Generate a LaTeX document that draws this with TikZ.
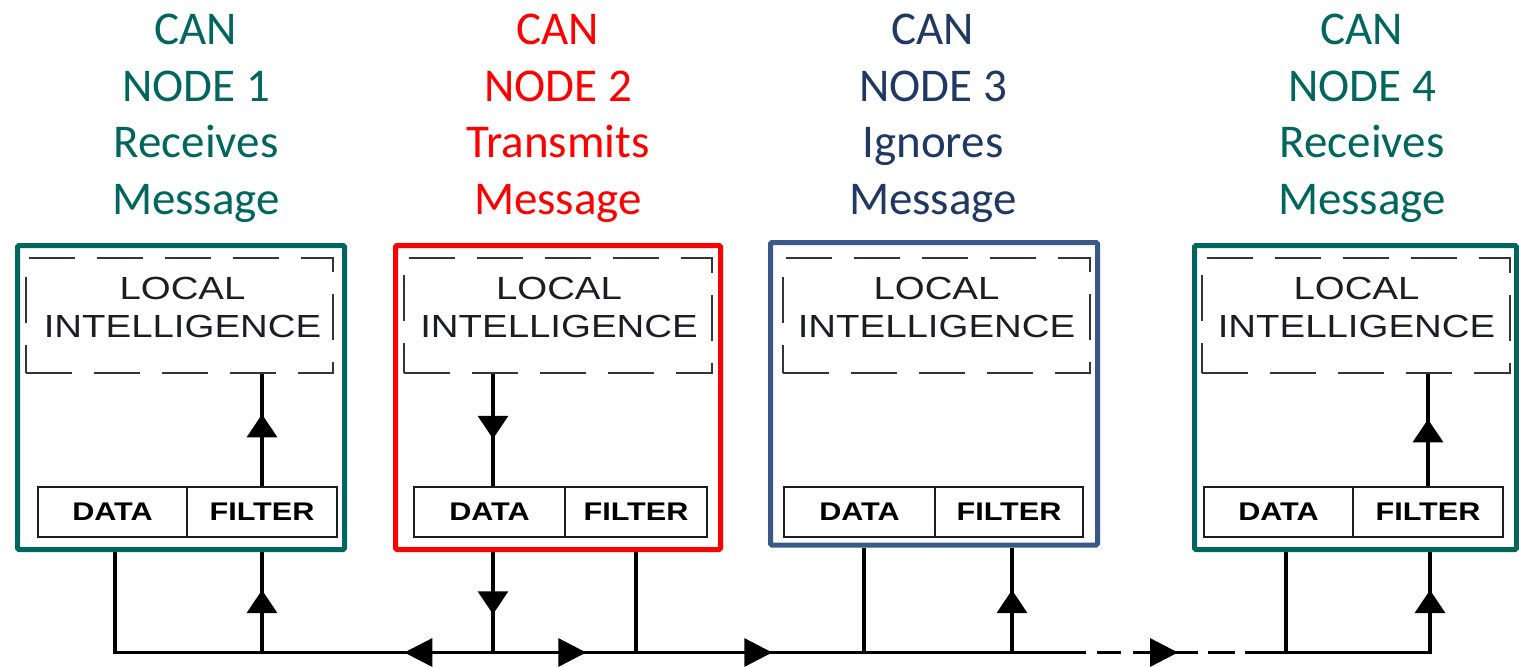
\documentclass[tikz,border=0pt]{standalone}
\usepackage{fontspec}
\usepackage{graphicx}
\setmainfont{Carlito}
\newfontfamily\arialf{Liberation Sans}
\usetikzlibrary{arrows.meta,decorations.markings}
\definecolor{cteal}{RGB}{0,102,94}
\definecolor{cred}{RGB}{255,0,0}
\definecolor{cnavy}{RGB}{31,56,100}
\definecolor{cslate}{RGB}{59,89,136}
\definecolor{ink}{RGB}{28,28,36}
\tikzset{
  ttl/.style={align=center, anchor=north, inner sep=0pt, font=\fontsize{47}{56.5}\selectfont},
  outerbox/.style={draw, line width=5pt, inner sep=0pt, rounded corners=1.5pt},
  libox/.style={draw=ink!90, line width=1.6pt, dash pattern=on 46pt off 22pt, inner sep=0pt, minimum height=115pt},
  litext/.style={align=center, anchor=north, inner sep=0pt, xscale=1.2, text=ink, font=\arialf\fontsize{32}{38}\selectfont},
  cellbox/.style={draw=ink, line width=1.4pt, minimum height=50pt, inner sep=0pt, text=black, font=\arialf\bfseries\fontsize{25.5}{25.5}\selectfont},
  wire/.style={line width=3.3pt},
  vtri/.tip={Triangle[width=30pt,length=23pt]},
  btri/.tip={Triangle[width=28pt,length=28pt]},
  upat/.style={decoration={markings, mark=at position #1 with {\arrow{vtri}}}, postaction={decorate}},
}
\begin{document}
\begin{tikzpicture}[x=1pt,y=-1pt]
\useasboundingbox (0,0) rectangle (1519,667);
% titles
\node[ttl,text=cteal] (t1) at (196,14) {CAN\\NODE 1\\Receives\\Message};
\node[ttl,text=cred] (t2) at (558,14) {CAN\\NODE 2\\Transmits\\Message};
\node[ttl,text=cnavy] (t3) at (933,14) {CAN\\NODE 3\\Ignores\\Message};
\node[ttl,text=cteal] (t4) at (1362,14) {CAN\\NODE 4\\Receives\\Message};
% outer boxes
\node[outerbox,draw=cteal,minimum width=327pt,minimum height=304pt] (box1) at (181,397.5) {};
\node[outerbox,draw=cred,minimum width=325pt,minimum height=304pt] (box2) at (558,397.5) {};
\node[outerbox,draw=cslate,minimum width=327pt,minimum height=302.5pt] (box3) at (934,393.75) {};
\node[outerbox,draw=cteal,minimum width=322pt,minimum height=304pt] (box4) at (1355.5,397.5) {};
% local intelligence
\node[libox,minimum width=307pt] (li1) at (179.5,315.5) {};
\node[libox,minimum width=308pt] (li2) at (558,315.5) {};
\node[libox,minimum width=307pt] (li3) at (936.5,315.5) {};
\node[libox,minimum width=308pt] (li4) at (1356,315.5) {};
\node[litext] (lt1) at (182.5,277) {LOCAL\\INTELLIGENCE};
\node[litext] (lt2) at (559,277) {LOCAL\\INTELLIGENCE};
\node[litext] (lt3) at (936.5,277) {LOCAL\\INTELLIGENCE};
\node[litext] (lt4) at (1356.5,277) {LOCAL\\INTELLIGENCE};
% data / filter cells
\node[cellbox,minimum width=149pt] (d1) at (112.5,512) {\scalebox{1.2}[1]{DATA}};
\node[cellbox,minimum width=150pt] (f1) at (262,512) {\scalebox{1.2}[1]{FILTER}};
\node[cellbox,minimum width=151pt] (d2) at (489.5,512) {\scalebox{1.2}[1]{DATA}};
\node[cellbox,minimum width=142pt] (f2) at (636,512) {\scalebox{1.2}[1]{FILTER}};
\node[cellbox,minimum width=151pt] (d3) at (859.5,512) {\scalebox{1.2}[1]{DATA}};
\node[cellbox,minimum width=148pt] (f3) at (1009,512) {\scalebox{1.2}[1]{FILTER}};
\node[cellbox,minimum width=149pt] (d4) at (1278.5,512) {\scalebox{1.2}[1]{DATA}};
\node[cellbox,minimum width=150pt] (f4) at (1428,512) {\scalebox{1.2}[1]{FILTER}};
% bus junctions
\coordinate (j1a) at (115,652.5);
\coordinate (j1b) at (262,652.5);
\coordinate (j2a) at (493,652.5);
\coordinate (j2b) at (636,652.5);
\coordinate (j3a) at (864,652.5);
\coordinate (j3b) at (1012,652.5);
\coordinate (j4a) at (1286,652.5);
\coordinate (j4b) at (1430,652.5);
\coordinate (e1) at (1086,652.5);
\coordinate (g1) at (1097,652.5);
\coordinate (g2) at (1235,652.5);
\coordinate (e2) at (1245,652.5);
% inner arrows
\draw[wire,upat=72pt] (f1.north) -- (f1.north |- li1.south);
\draw[wire,upat=65pt] (li2.south -| j2a) -- (d2.north -| j2a);
\draw[wire,upat=67pt] (f4.north) -- (f4.north |- li4.south);
% drops to the bus
\draw[wire,upat=62.5pt] (j1b) -- (box1.south -| j1b);
\draw[wire,upat=62.25pt] (box2.south -| j2a) -- (j2a);
\draw[wire] (box2.south -| j2b) -- (j2b);
\draw[wire] (box3.south -| j3a) -- (j3a);
\draw[wire,upat=62.5pt] (j3b) -- (box3.south -| j3b);
\draw[wire] (box4.south -| j4a) -- (j4a);
\draw[wire,upat=247.5pt] (e2) -| (box4.south -| j4b);
% bus
\draw[wire,decoration={markings,
   mark=at position 389.75pt with {\arrowreversed{btri}},
   mark=at position 571.75pt with {\arrow{btri}},
   mark=at position 757.75pt with {\arrow{btri}}},postaction={decorate}]
   (box1.south -| j1a) |- (e1);
\draw[wire,dash pattern=on 24pt off 12pt on 65pt off 10pt on 27pt off 50pt,
   decoration={markings, mark=at position 81pt with {\arrow{btri}}},postaction={decorate}]
   (g1) -- (g2);
\end{tikzpicture}
\end{document}
